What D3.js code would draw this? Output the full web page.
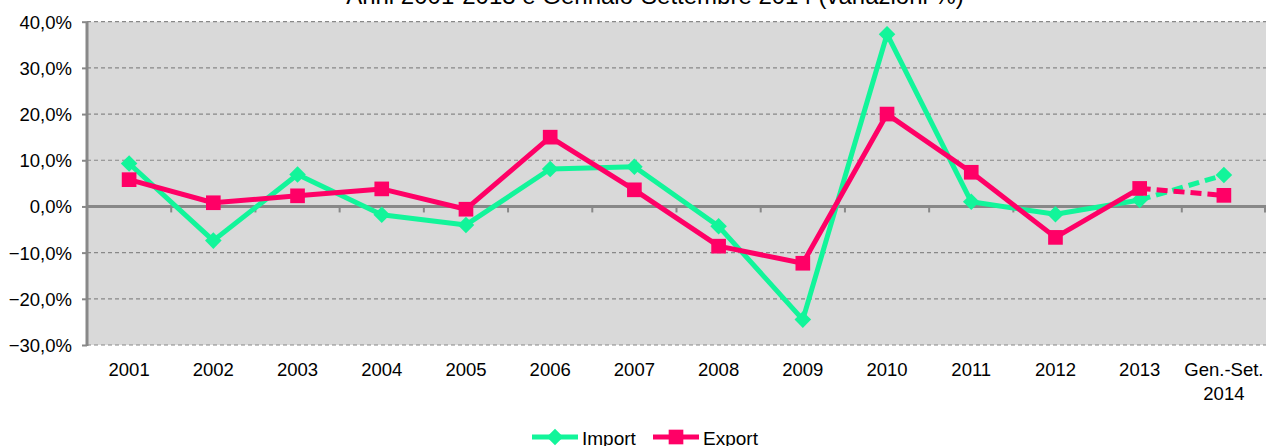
<!DOCTYPE html>
<html>
<head>
<meta charset="utf-8">
<script src="https://cdn.jsdelivr.net/npm/d3@7"></script>
<style>
  html, body { margin: 0; padding: 0; background: #fff; }
  svg { display: block; font-family: "Liberation Sans", Arial, sans-serif; }
</style>
</head>
<body>
<svg id="chart" width="1266" height="446"></svg>
<script>
const categories = ["2001","2002","2003","2004","2005","2006","2007","2008","2009","2010","2011","2012","2013","Gen.-Set.\n2014"];
const importValues = [9.3, -7.4, 6.9, -1.8, -4.0, 8.1, 8.6, -4.3, -24.5, 37.3, 1.0, -1.7, 1.4, 6.8];
const exportValues = [5.8, 0.8, 2.3, 3.8, -0.6, 15.0, 3.6, -8.6, -12.3, 20.0, 7.4, -6.7, 3.9, 2.4];
const yTicks = [-30, -20, -10, 0, 10, 20, 30, 40];
const titleText = "Anni 2001-2013 e Gennaio-Settembre 2014 (variazioni %)";
const seriesNames = ["Import", "Export"];

const GREEN = "#12f59a", PINK = "#ff0066", GRID = "#888888";
const FS = 18.5;
const svg = d3.select("#chart");
const plot = {left: 87, right: 1266, top: 21.7, bottom: 345};

const x = d3.scaleBand().domain(categories).range([plot.left, plot.right]).padding(0);
const y = d3.scaleLinear().domain([-30, 40]).range([plot.bottom, plot.top]);
const cx = c => x(c) + x.bandwidth() / 2;

// title (clipped at top, as in the reference)
svg.append("text").attr("x", 655).attr("y", 4).attr("text-anchor", "middle")
  .attr("font-size", 24).attr("fill", "#000").text(titleText);

// plot background
svg.append("rect").attr("x", plot.left).attr("y", plot.top)
  .attr("width", plot.right - plot.left).attr("height", plot.bottom - plot.top)
  .attr("fill", "#d9d9d9");

// gridlines
svg.append("g").selectAll("line").data(yTicks.filter(t => t !== 0)).join("line")
  .attr("x1", plot.left).attr("x2", plot.right)
  .attr("y1", d => y(d)).attr("y2", d => y(d))
  .attr("stroke", GRID).attr("stroke-width", 1.2).attr("stroke-dasharray", "4,3");

// y axis
const yAxis = d3.axisLeft(y).tickValues(yTicks).tickSize(5).tickPadding(10)
  .tickFormat(d => d3.format(".1f")(d).replace(".", ",") + "%");
const gy = svg.append("g").attr("transform", `translate(${plot.left},0)`).call(yAxis);
gy.select(".domain").attr("stroke", GRID).attr("stroke-width", 3).attr("d", `M0,${plot.bottom+1}V${plot.top}`);
gy.selectAll(".tick line").attr("stroke", GRID).attr("stroke-width", 2);
gy.selectAll(".tick text").attr("font-size", FS).attr("fill", "#000")
  .attr("font-family", "Liberation Sans, Arial, sans-serif").attr("dy", "0.35em");

// zero line with category tick marks
const gx = svg.append("g").attr("transform", `translate(0,${y(0)})`);
gx.append("line").attr("x1", plot.left).attr("x2", plot.right).attr("y1", 0).attr("y2", 0)
  .attr("stroke", GRID).attr("stroke-width", 3);
const bounds = categories.map(c => x(c) + x.bandwidth());
gx.selectAll("line.tk").data(bounds).join("line").attr("class", "tk")
  .attr("x1", d => Math.min(d, plot.right - 1)).attr("x2", d => Math.min(d, plot.right - 1))
  .attr("y1", 0).attr("y2", 6).attr("stroke", GRID).attr("stroke-width", 2);

// x labels
const xl = svg.append("g").selectAll("text").data(categories).join("text")
  .attr("x", d => cx(d)).attr("y", 376).attr("text-anchor", "middle")
  .attr("font-size", FS).attr("fill", "#000");
xl.each(function(d) {
  const parts = d.split("\n");
  d3.select(this).selectAll("tspan").data(parts).join("tspan")
    .attr("x", cx(d)).attr("dy", (p, i) => i === 0 ? 0 : 24).text(p => p);
});

// series
const diamond = d3.symbol().type(d3.symbolDiamond2).size(175);
const square = d3.symbol().type(d3.symbolSquare).size(215);
function drawSeries(vals, color, sym) {
  const pts = categories.map((c, i) => [cx(c), y(vals[i])]);
  const line = d3.line();
  const g = svg.append("g");
  g.append("path").attr("d", line(pts.slice(0, 13))).attr("fill", "none")
    .attr("stroke", color).attr("stroke-width", 5).attr("stroke-linejoin", "round");
  g.append("path").attr("d", line(pts.slice(12, 14))).attr("fill", "none")
    .attr("stroke", color).attr("stroke-width", 5).attr("stroke-dasharray", "11,6");
  g.selectAll("path.m").data(pts).join("path").attr("class", "m")
    .attr("transform", d => `translate(${d[0]},${d[1]})`)
    .attr("d", sym()).attr("fill", color);
}
drawSeries(importValues, GREEN, diamond);
drawSeries(exportValues, PINK, square);

// legend (bottom clipped, as in the reference)
const legend = svg.append("g");
const items = [
  {name: seriesNames[0], color: GREEN, sym: diamond, x0: 532},
  {name: seriesNames[1], color: PINK, sym: square, x0: 653}
];
items.forEach(it => {
  legend.append("line").attr("x1", it.x0).attr("x2", it.x0 + 46).attr("y1", 437).attr("y2", 437)
    .attr("stroke", it.color).attr("stroke-width", 5);
  legend.append("path").attr("transform", `translate(${it.x0 + 23},437)`)
    .attr("d", it.sym()).attr("fill", it.color);
  legend.append("text").attr("x", it.x0 + 50).attr("y", 445).attr("font-size", FS + 0.5)
    .attr("fill", "#000").text(it.name);
});
</script>
</body>
</html>
